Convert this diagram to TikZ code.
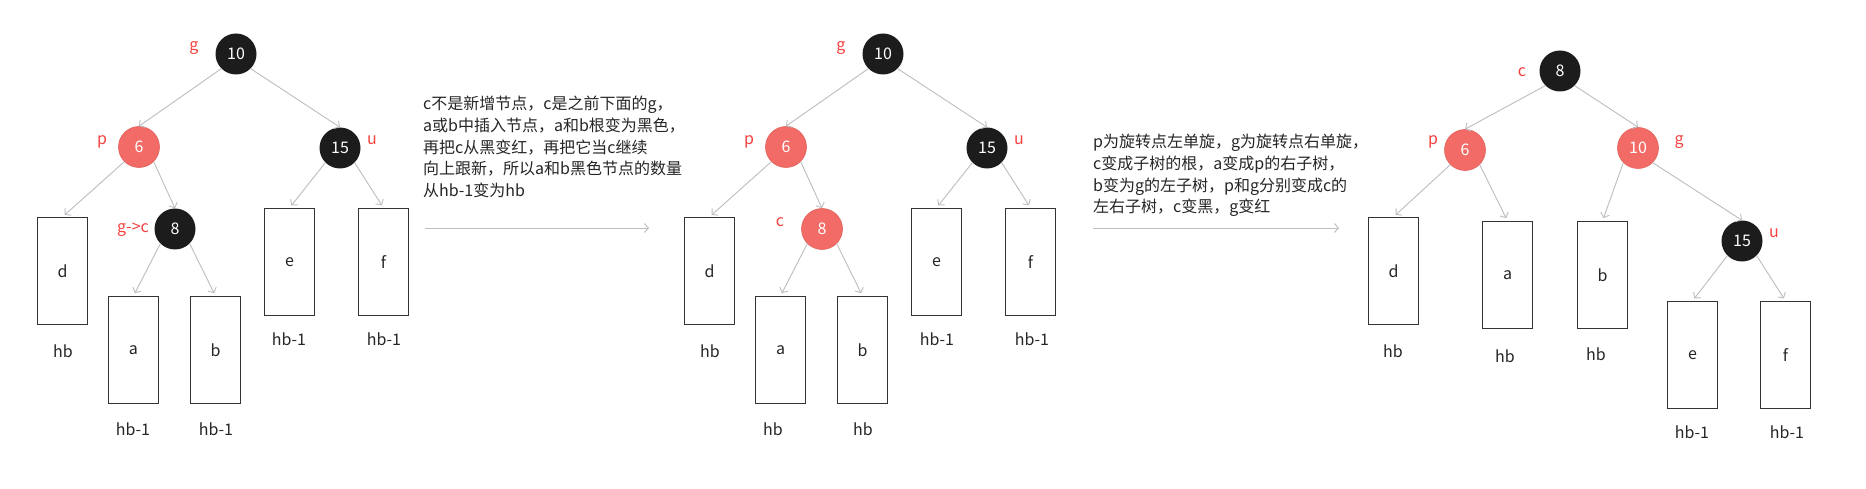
\documentclass[tikz,border=0pt]{standalone}
\usepackage{fontspec}
\setmainfont{Noto Sans CJK SC}
\usetikzlibrary{arrows.meta}
\definecolor{rbfill}{HTML}{F36B66}
\definecolor{rbdraw}{HTML}{E0625D}
\definecolor{lblred}{HTML}{F5413F}
\definecolor{blk}{HTML}{1C1C1C}
\definecolor{edgegray}{HTML}{BDBDC2}
\definecolor{boxdraw}{HTML}{333333}
\definecolor{txt}{HTML}{262626}
\begin{document}
\begin{tikzpicture}[x=1pt,y=-1pt,
  rbnode/.style={circle,minimum size=41pt,inner sep=0pt,text=white,font=\fontsize{16}{19}\selectfont},
  blacknode/.style={rbnode,fill=blk},
  rednode/.style={rbnode,fill=rbfill,draw=rbdraw,line width=0.6pt},
  tag/.style={text=lblred,inner sep=0pt,font=\fontsize{16}{19}\selectfont},
  subtree/.style={draw=boxdraw,line width=1.2pt,minimum width=50pt,minimum height=107pt,inner sep=0pt,text=txt,font=\fontsize{16}{19}\selectfont},
  hlabel/.style={inner sep=0pt,text=txt,font=\fontsize{16}{19}\selectfont},
  edge/.style={draw=edgegray,line width=0.9pt,-{Straight Barb[length=4pt,width=9pt]}},
  boxedge/.style={edge,shorten >=3pt},
  note/.style={anchor=north west,align=left,inner sep=0pt,text=txt,font=\fontsize{16}{21.7}\selectfont},
  stepline/.style={draw=edgegray,line width=0.9pt,-{Straight Barb[length=4pt,width=9pt]}}
]
\useasboundingbox[fill=white] (0,0) rectangle (1866,489);

% ---------- left tree ----------
\node[blacknode] (g1) at (236,54) {10};
\node[rednode]   (p1) at (139,147) {6};
\node[blacknode] (u1) at (340,148) {15};
\node[blacknode] (c1) at (175,229) {8};
\node[tag] (g1t) at (194,48) {g};
\node[tag] (p1t) at (102,142) {p};
\node[tag] (u1t) at (372,140) {u};
\node[tag] (c1t) at (133,230) {g->c};
\node[subtree] (d1) at (62.5,271) {d};
\node[subtree] (a1) at (133.5,350) {a};
\node[subtree] (b1) at (215.5,350) {b};
\node[subtree] (e1) at (289.5,262) {e};
\node[subtree] (f1) at (383.5,262) {f};
\node[hlabel] (d1h) at (63,351) {hb};
\node[hlabel] (a1h) at (133,429) {hb-1};
\node[hlabel] (b1h) at (216,429) {hb-1};
\node[hlabel] (e1h) at (289,339) {hb-1};
\node[hlabel] (f1h) at (384,339) {hb-1};
\draw[edge] (g1.south west) -- (p1.north);
\draw[edge] (g1.south east) -- (u1.north);
\draw[boxedge] (p1.south west) -- (d1.north);
\draw[edge] (p1.south east) -- (c1.north);
\draw[boxedge] (c1.south west) -- (a1.north);
\draw[boxedge] (c1.south east) -- (b1.north);
\draw[boxedge] (u1.south west) -- (e1.north);
\draw[boxedge] (u1.south east) -- (f1.north);

% ---------- first step ----------
\node[note] (n1) at (423,96) {c不是新增节点，c是之前下面的g，\\a或b中插入节点，a和b根变为黑色，\\再把c从黑变红，再把它当c继续\\向上跟新，所以a和b黑色节点的数量\\从hb-1变为hb};
\coordinate (s1a) at (425,228);
\coordinate (s1b) at (649,228);
\draw[stepline] (s1a) -- (s1b);

% ---------- middle tree ----------
\node[blacknode] (g2) at (883,54) {10};
\node[rednode]   (p2) at (786,147) {6};
\node[blacknode] (u2) at (987,148) {15};
\node[rednode]   (c2) at (822,229) {8};
\node[tag] (g2t) at (841,48) {g};
\node[tag] (p2t) at (749,142) {p};
\node[tag] (u2t) at (1019,140) {u};
\node[tag] (c2t) at (780,222) {c};
\node[subtree] (d2) at (709.5,271) {d};
\node[subtree] (a2) at (780.5,350) {a};
\node[subtree] (b2) at (862.5,350) {b};
\node[subtree] (e2) at (936.5,262) {e};
\node[subtree] (f2) at (1030.5,262) {f};
\node[hlabel] (d2h) at (710,351) {hb};
\node[hlabel] (a2h) at (773,429) {hb};
\node[hlabel] (b2h) at (863,429) {hb};
\node[hlabel] (e2h) at (937,339) {hb-1};
\node[hlabel] (f2h) at (1032,339) {hb-1};
\draw[edge] (g2.south west) -- (p2.north);
\draw[edge] (g2.south east) -- (u2.north);
\draw[boxedge] (p2.south west) -- (d2.north);
\draw[edge] (p2.south east) -- (c2.north);
\draw[boxedge] (c2.south west) -- (a2.north);
\draw[boxedge] (c2.south east) -- (b2.north);
\draw[boxedge] (u2.south west) -- (e2.north);
\draw[boxedge] (u2.south east) -- (f2.north);

% ---------- second step ----------
\node[note] (n2) at (1093,134) {p为旋转点左单旋，g为旋转点右单旋，\\c变成子树的根，a变成p的右子树，\\b变为g的左子树，p和g分别变成c的\\左右子树，c变黑，g变红};
\coordinate (s2a) at (1093,228);
\coordinate (s2b) at (1339,228);
\draw[stepline] (s2a) -- (s2b);

% ---------- right tree ----------
\node[blacknode] (c3) at (1560,71) {8};
\node[rednode]   (p3) at (1465,150) {6};
\node[rednode]   (g3) at (1638,148) {10};
\node[blacknode] (u3) at (1742,241) {15};
\node[tag] (c3t) at (1522,72) {c};
\node[tag] (p3t) at (1433,142) {p};
\node[tag] (g3t) at (1679,142) {g};
\node[tag] (u3t) at (1774,233) {u};
\node[subtree] (d3) at (1393.5,271) {d};
\node[subtree] (a3) at (1507.5,275) {a};
\node[subtree] (b3) at (1602.5,275) {b};
\node[subtree] (e3) at (1692.5,355) {e};
\node[subtree] (f3) at (1785.5,355) {f};
\node[hlabel] (d3h) at (1393,351) {hb};
\node[hlabel] (a3h) at (1505,356) {hb};
\node[hlabel] (b3h) at (1596,354) {hb};
\node[hlabel] (e3h) at (1692,432) {hb-1};
\node[hlabel] (f3h) at (1787,432) {hb-1};
\draw[edge] (c3.south west) -- (p3.north);
\draw[edge] (c3.south east) -- (g3.north);
\draw[boxedge] (p3.south west) -- (d3.north);
\draw[boxedge] (p3.south east) -- (a3.north);
\draw[boxedge] (g3.south west) -- (b3.north);
\draw[edge] (g3.south east) -- (u3.north);
\draw[boxedge] (u3.south west) -- (e3.north);
\draw[boxedge] (u3.south east) -- (f3.north);
\end{tikzpicture}
\end{document}
